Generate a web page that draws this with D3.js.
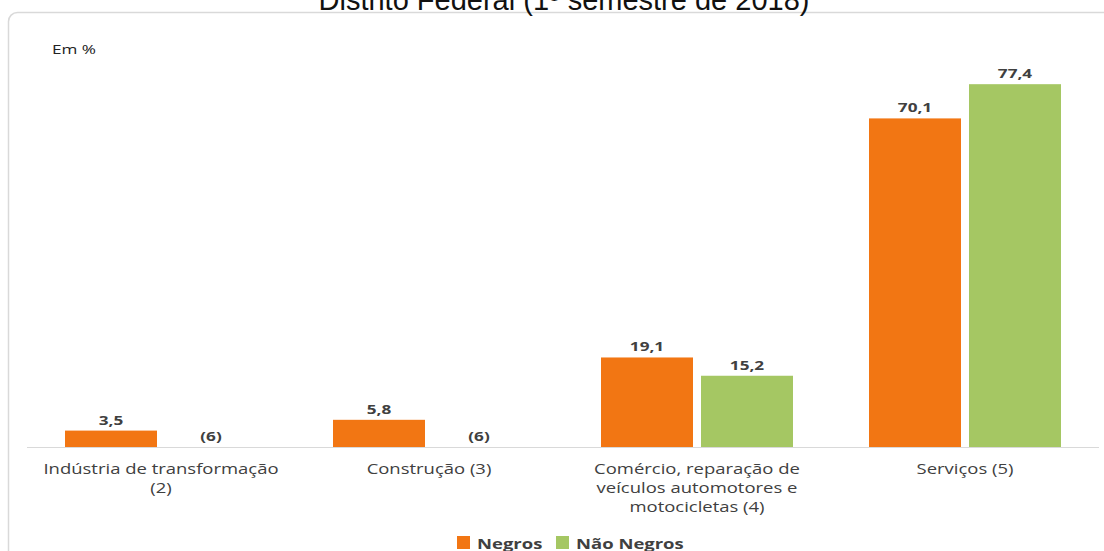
<!DOCTYPE html>
<html><head><meta charset="utf-8">
<script src="https://cdn.jsdelivr.net/npm/d3@7"></script>
<style>body{margin:0;background:#fff}svg{display:block}</style>
</head><body>
<svg id="c" width="1104" height="551"></svg>
<script>
const categories = [["Indústria de transformação","(2)"],["Construção (3)"],["Comércio, reparação de","veículos automotores e","motocicletas (4)"],["Serviços (5)"]];
const seriesNames = ["Negros","Não Negros"];
const negros = [3.5, 5.8, 19.1, 70.1];
const naoNegros = [null, null, 15.2, 77.4];
const missingLabel = "(6)";
const colors = ["#F27613","#A5C763"];
const title = "Distrito Federal (1º semestre de 2018)";
const unitLabel = "Em %";

const svg = d3.select("#c");
const fmt = v => d3.format(".1f")(v).replace(".", ",");
const font = "'Open Sans', 'DejaVu Sans', sans-serif";
const SX = 1.32;

function stext(parent, x, y, str, opts) {
  const g = parent.append("g").attr("transform", `translate(${x},${y}) scale(${SX},1)`);
  const t = g.append("text").attr("x",0).attr("y",0)
    .attr("text-anchor", opts.anchor || "middle")
    .attr("font-family", font).attr("font-size", opts.size || 14)
    .attr("font-weight", opts.bold ? "bold" : "normal")
    .attr("fill", opts.fill || "#404040").text(str);
  return t;
}

svg.append("rect").attr("x",8.5).attr("y",12.5).attr("width",1110).attr("height",560)
  .attr("rx",9).attr("fill","#fff").attr("stroke","#d9d9d9").attr("stroke-width",1.5);

svg.append("text").attr("x",564).attr("y",10).attr("text-anchor","middle")
  .attr("font-family","'Liberation Sans', Arial, sans-serif").attr("font-size",29).attr("fill","#111").text(title);

stext(svg, 52, 54, unitLabel, {anchor:"start", size:13, fill:"#222"});

const idx = d3.range(categories.length);
const x0 = d3.scaleBand().domain(idx).range([27,1099]).paddingInner(0).paddingOuter(0);
const x1 = d3.scaleBand().domain([0,1]).range([38, 268-38]).paddingInner(8/100);
const y = d3.scaleLinear().domain([0,80]).range([447,72]);

const data = [negros, naoNegros];
const g = svg.append("g");
data.forEach((arr, s) => {
  arr.forEach((v, i) => {
    const bx = x0(i) + x1(s);
    const cx = bx + x1.bandwidth()/2;
    if (v == null) {
      stext(g, cx, 441, missingLabel, {bold:true, size:13});
      return;
    }
    g.append("rect").attr("x",bx).attr("y",y(v)).attr("width",x1.bandwidth()).attr("height",y(0)-y(v))
      .attr("fill",colors[s]);
    stext(g, cx, y(v)-6, fmt(v), {bold:true, size:13});
  });
});

const ax = svg.append("g").attr("transform","translate(0,447)")
  .call(d3.axisBottom(x0).tickSize(0).tickFormat(""));
ax.select(".domain").attr("stroke","#d9d9d9").attr("d","M27,0.5H1099");
idx.forEach(i => {
  const cx = x0(i)+x0.bandwidth()/2;
  categories[i].forEach((ln, k) => stext(svg, cx, 474 + k*19, ln, {size:14, fill:"#404040"}));
});

// legend
const leg = svg.append("g").attr("transform","translate(457,536)");
const items = [{n:seriesNames[0],c:colors[0],x:0},{n:seriesNames[1],c:colors[1],x:99}];
items.forEach(it => {
  leg.append("rect").attr("x",it.x).attr("y",0).attr("width",13).attr("height",13).attr("fill",it.c);
  stext(leg, it.x+20, 13, it.n, {anchor:"start", bold:true, size:14});
});
</script>
</body></html>
